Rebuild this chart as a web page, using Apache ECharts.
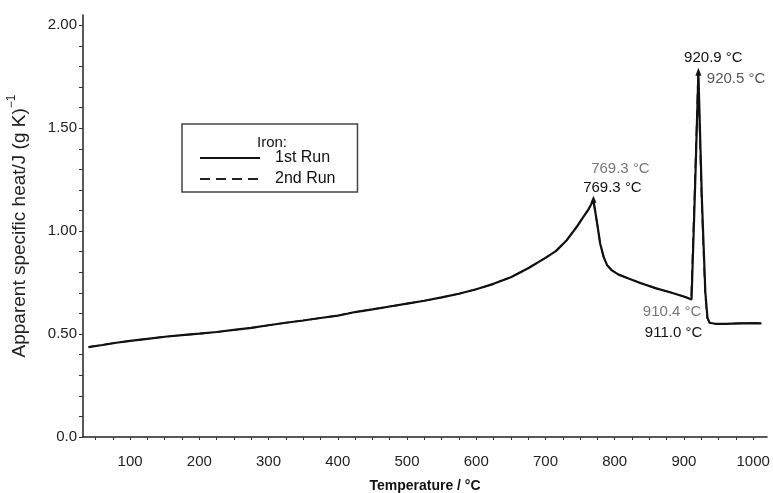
<!DOCTYPE html>
<html>
<head>
<meta charset="utf-8">
<script src="https://cdn.jsdelivr.net/npm/echarts@6/dist/echarts.min.js"></script>
<style>html,body{margin:0;padding:0;background:#fff}#c{width:773px;height:493px}</style>
</head>
<body>
<div id="c"></div>
<script>
// ---- data ----
const temp1 = [40,60,80,100,125,150,175,200,225,250,275,300,325,350,375,400,415,425,450,475,500,525,550,575,600,625,650,675,700,715,730,745,755,762,769.3,775,779,784,789,795,805,820,837,860,880,902,911.0,916,920.9,926,931,934,937,945,960,980,1000,1012];
const cp1   = [0.437,0.447,0.458,0.467,0.477,0.487,0.495,0.502,0.510,0.520,0.530,0.543,0.555,0.566,0.578,0.590,0.600,0.607,0.620,0.634,0.648,0.662,0.678,0.696,0.718,0.744,0.776,0.820,0.870,0.903,0.953,1.020,1.070,1.105,1.150,1.030,0.940,0.875,0.835,0.812,0.790,0.770,0.748,0.722,0.703,0.680,0.668,1.200,1.770,1.150,0.700,0.580,0.555,0.550,0.550,0.552,0.553,0.552];
const temp2 = [40,60,80,100,125,150,175,200,225,250,275,300,325,350,375,400,415,425,450,475,500,525,550,575,600,625,650,675,700,715,730,745,755,762,769.3,775,779,784,789,795,805,820,837,860,880,902,910.4,915.5,920.5,925.5,930.5,933.5,937,945,960,980,1000,1012];
const cp2   = [0.437,0.447,0.458,0.467,0.477,0.487,0.495,0.502,0.510,0.520,0.530,0.543,0.555,0.566,0.578,0.590,0.600,0.607,0.620,0.634,0.648,0.662,0.678,0.696,0.718,0.744,0.776,0.820,0.870,0.903,0.953,1.020,1.070,1.105,1.145,1.030,0.940,0.875,0.835,0.812,0.790,0.770,0.748,0.722,0.703,0.680,0.670,1.200,1.765,1.150,0.700,0.580,0.555,0.550,0.550,0.552,0.553,0.552];
const xTickLabels = [100,200,300,400,500,600,700,800,900,1000];
const xMinorTicks = [50,75,100,125,150,175,200,225,250,275,300,325,350,375,400,425,450,475,500,525,550,575,600,625,650,675,700,725,750,775,800,825,850,875,900,925,950,975,1000];
const yTickLabels = [0,0.5,1.0,1.5,2.0];
const yMinorTicks = [0,0.1,0.2,0.3,0.4,0.5,0.6,0.7,0.8,0.9,1.0,1.1,1.2,1.3,1.4,1.5,1.6,1.7,1.8,1.9,2.0];
const seriesNames = ['1st Run','2nd Run'];
const peaks1 = [[769.3,1.150,'769.3 °C'],[920.9,1.770,'920.9 °C'],[911.0,0.668,'911.0 °C']];
const peaks2 = [[769.3,1.145,'769.3 °C'],[920.5,1.765,'920.5 °C'],[910.4,0.670,'910.4 °C']];

const NARROW = '"Liberation Sans Narrow","Liberation Sans",Arial,sans-serif';
const zip = (a,b)=>a.map((v,i)=>[v,b[i]]);

const lbl = (p, off, color) => ({
  coord:[p[0],p[1]], value:p[2], symbol:'circle', symbolSize:1,
  itemStyle:{color:'rgba(0,0,0,0)'},
  label:{show:true, position:'inside', offset:off, formatter:p[2], color:color, fontFamily:NARROW, fontSize:15}
});

const chart = echarts.init(document.getElementById('c'), null, {renderer:'canvas'});
chart.setOption({
  animation:false,
  backgroundColor:'#fff',
  grid:{left:83, right:6, top:15, bottom:56, outerBoundsMode:'none', containLabel:false},
  title:{text:'Iron:', left:257, top:135, padding:0, textStyle:{fontFamily:NARROW, fontSize:15, fontWeight:'normal', color:'#111'}},
  legend:{
    data:seriesNames, orient:'vertical', left:182, top:124,
    padding:[26,22,5,17], itemGap:5, itemWidth:60, itemHeight:13,
    borderColor:'#444', borderWidth:1.5, borderRadius:0,
    itemStyle:{opacity:0},
    textStyle:{fontFamily:NARROW, fontSize:16, color:'#111', padding:[0,0,0,10]}
  },
  xAxis:{
    type:'value', min:32, max:1020,
    name:'Temperature / °C', nameLocation:'middle', nameGap:42,
    nameTextStyle:{fontFamily:NARROW, fontSize:14, fontWeight:'bold', color:'#111'},
    axisLine:{show:true, lineStyle:{color:'#222', width:1.5}},
    axisTick:{show:true, customValues:xMinorTicks, length:3, lineStyle:{color:'#333'}},
    axisLabel:{customValues:xTickLabels, margin:17, fontFamily:NARROW, fontSize:15, color:'#222', formatter:v=>String(v)},
    splitLine:{show:false}
  },
  yAxis:{
    type:'value', min:0, max:2.05,
    name:'Apparent specific heat/J (g K){sup|−1}', nameLocation:'middle', nameGap:50,
    nameTextStyle:{fontFamily:'"Liberation Sans",Arial,sans-serif', fontSize:19, color:'#222', lineHeight:27,
      rich:{sup:{fontSize:12, verticalAlign:'top', lineHeight:12, fontFamily:'"Liberation Sans",Arial,sans-serif', color:'#222'}}},
    axisLine:{show:true, lineStyle:{color:'#222', width:1.5}},
    axisTick:{show:true, customValues:yMinorTicks, length:4, lineStyle:{color:'#333'}},
    axisLabel:{customValues:yTickLabels, margin:6, fontFamily:NARROW, fontSize:15, color:'#222',
      formatter:v=> v===0 ? '0.0' : v.toFixed(2)},
    splitLine:{show:false}
  },
  series:[
    {
      name:seriesNames[1], type:'line', data:zip(temp2,cp2), showSymbol:false, symbol:'none',
      lineStyle:{color:'#222', width:1.6, type:[10,6]}, itemStyle:{color:'#222'}, z:2,
      markPoint:{silent:true, data:[
        lbl(peaks2[0],[27,-32],'#777'),
        lbl(peaks2[1],[38,5],'#555'),
        lbl(peaks2[2],[-19,13],'#777')
      ]}
    },
    {
      name:seriesNames[0], type:'line', data:zip(temp1,cp1), showSymbol:false, symbol:'none',
      lineStyle:{color:'#111', width:2.2}, itemStyle:{color:'#111'}, z:3,
      markPoint:{silent:true, data:[
        lbl(peaks1[0],[19,-12],'#111'),
        lbl(peaks1[1],[15,-15],'#111'),
        lbl(peaks1[2],[-18,33],'#111'),
        {coord:[peaks1[0][0],peaks1[0][1]], symbol:'triangle', symbolSize:[6,7], symbolOffset:[0,-1], itemStyle:{color:'#111'}, label:{show:false}},
        {coord:[peaks1[1][0],peaks1[1][1]], symbol:'triangle', symbolSize:[6,8], symbolOffset:[0,-1], itemStyle:{color:'#111'}, label:{show:false}}
      ]}
    }
  ]
});
</script>
</body>
</html>
